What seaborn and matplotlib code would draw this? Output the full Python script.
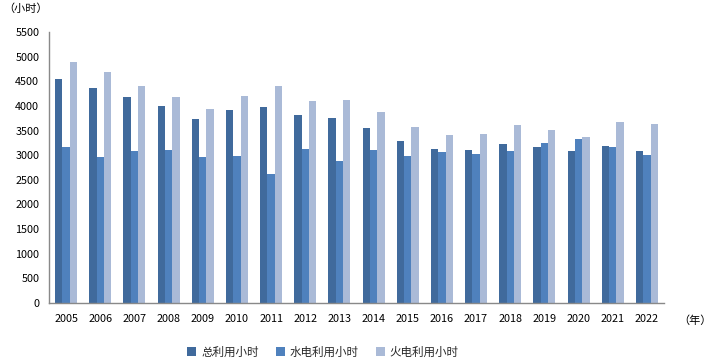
import matplotlib
matplotlib.use("Agg")
import matplotlib.pyplot as plt
import seaborn as sns
import pandas as pd

years = [str(y) for y in range(2005, 2023)]
series_names = ["总利用小时", "水电利用小时", "火电利用小时"]
total_hours = [4543, 4359, 4176, 3993, 3728, 3911, 3972, 3809, 3748, 3544,
               3280, 3117, 3096, 3218, 3157, 3076, 3178, 3076]
hydro_hours = [3157, 2954, 3076, 3096, 2954, 2974, 2628, 3117, 2872, 3096,
               2974, 3056, 3015, 3076, 3239, 3320, 3157, 2995]
thermal_hours = [4889, 4685, 4400, 4176, 3931, 4196, 4400, 4094, 4115, 3870,
                 3565, 3402, 3422, 3605, 3504, 3361, 3667, 3626]
y_ticks = list(range(0, 5501, 500))

colors = ["#406A9C", "#4F81BD", "#AABAD7"]

rows = []
for name, vals in zip(series_names, [total_hours, hydro_hours, thermal_hours]):
    for yr, v in zip(years, vals):
        rows.append({"year": yr, "series": name, "value": v})
df = pd.DataFrame(rows)

sns.set_style("white")
plt.rcParams['font.family'] = ['Noto Sans CJK SC', 'DejaVu Sans']

fig = plt.figure(figsize=(7.1, 3.64), dpi=100)
ax = fig.add_axes([49/710, 1-303/364, (664-49)/710, (303-32)/364])

sns.barplot(data=df, x="year", y="value", hue="series", order=years,
            hue_order=series_names, palette=colors, width=0.64,
            saturation=1, ax=ax, legend=False, linewidth=0)

ax.set_xlim(-0.5, len(years)-0.5)
ax.set_ylim(0, 5500)
ax.set_yticks(y_ticks)
ax.set_yticklabels([str(t) for t in y_ticks], fontsize=7.8, color="#000000")
ax.set_xlabel("")
ax.set_ylabel("")

# x ticks between categories
ax.set_xticks([i - 0.5 for i in range(len(years)+1)], minor=False)
ax.set_xticklabels([])
ax.set_xticks(range(len(years)), minor=True)
ax.set_xticklabels(years, minor=True, fontsize=7.8, color="#000000")
ax.tick_params(axis="x", which="major", direction="out", length=4, color="#898989", width=0.8)
ax.tick_params(axis="x", which="minor", length=0, pad=8)
ax.tick_params(axis="y", direction="out", length=4, color="#898989", width=0.8, pad=3)

for s in ["top", "right"]:
    ax.spines[s].set_visible(False)
for s in ["left", "bottom"]:
    ax.spines[s].set_color("#898989")
    ax.spines[s].set_linewidth(1.0)

fig.text(3/710, 1-9/364, "（小时）", fontsize=8, va="center", ha="left", color="#000000")
fig.text(678/710, 1-321/364, "（年）", fontsize=8, va="center", ha="left", color="#000000")

from matplotlib.patches import Patch
handles = [Patch(facecolor=c, edgecolor="none") for c in colors]
fig.legend(handles, series_names, loc="center", bbox_to_anchor=(323/710, 1-352/364),
           ncol=3, frameon=False, fontsize=8.3, handlelength=0.8, handleheight=0.8,
           handletextpad=0.4, columnspacing=1.5)

fig.savefig("out.png", dpi=100)
